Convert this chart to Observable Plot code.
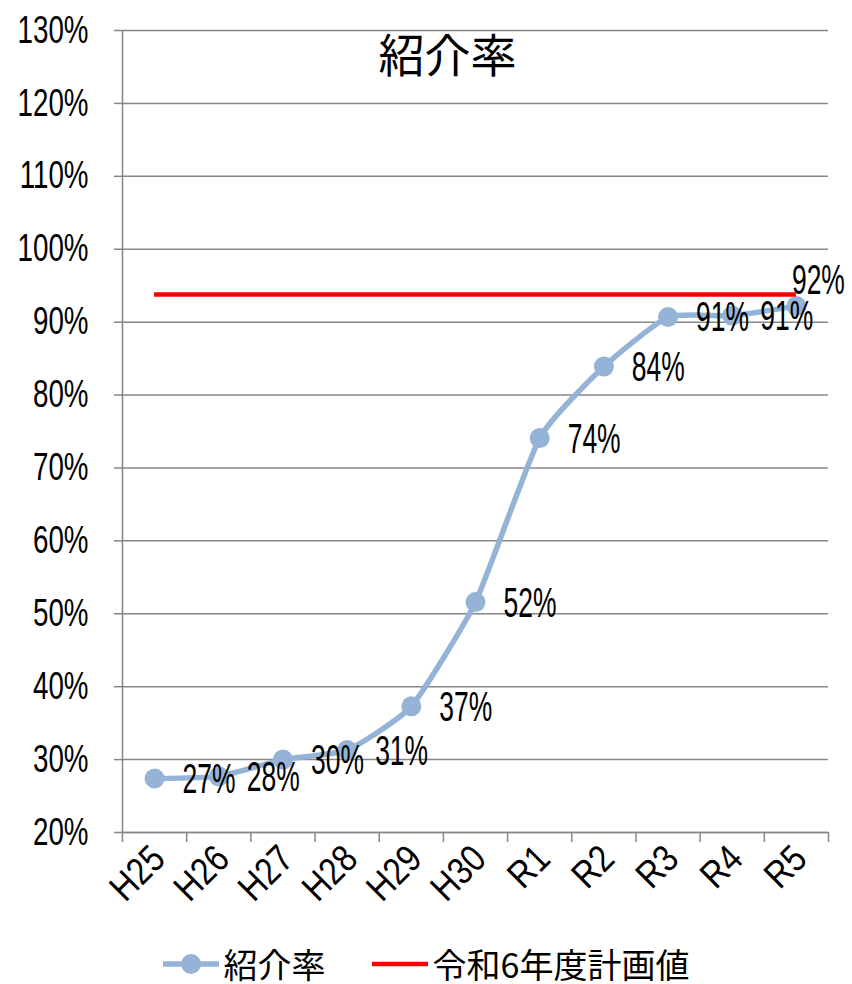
<!DOCTYPE html>
<html>
<head>
<meta charset="utf-8">
<script src="https://cdn.jsdelivr.net/npm/d3@7"></script>
<script src="https://cdn.jsdelivr.net/npm/@observablehq/plot@0.6"></script>
<style>
  html, body { margin: 0; padding: 0; background: #fff; }
  #chart { width: 852px; }
  #chart svg { display: block; }
  .legend { display: flex; justify-content: center; align-items: center; height: 40px; margin-top: 4px;
    font-family: "Noto Sans CJK JP", sans-serif; font-size: 34px; line-height: 1; color: #000; }
  .legend .item { display: flex; align-items: center; margin: 0 23px; }
  .legend span { display: inline-block; height: 36px; line-height: 36px; }
  .legend svg { margin-right: 5px; }
</style>
</head>
<body>
<div id="chart"></div>
<script>
const title = "紹介率";
const categories = ["H25", "H26", "H27", "H28", "H29", "H30", "R1", "R2", "R3", "R4", "R5"];
const rates = [0.274, 0.277, 0.300, 0.313, 0.373, 0.516, 0.741, 0.839, 0.907, 0.909, 0.922];
const rateLabels = ["27%", "28%", "30%", "31%", "37%", "52%", "74%", "84%", "91%", "91%", "92%"];
const planValue = 0.938;
const yTicks = [0.2, 0.3, 0.4, 0.5, 0.6, 0.7, 0.8, 0.9, 1.0, 1.1, 1.2, 1.3];
const yTickLabels = ["20%", "30%", "40%", "50%", "60%", "70%", "80%", "90%", "100%", "110%", "120%", "130%"];
const seriesNames = ["紹介率", "令和6年度計画値"];
const colors = ["#95B3D7", "#FF0000"];

const data = categories.map((c, i) => ({ i, cat: c, rate: rates[i], label: rateLabels[i] }));
const idx = categories.map((c, i) => i);
const boundaries = categories.map((c, i) => i - 0.5).concat([categories.length - 0.5]);
const last = categories.length - 1;
const numFont = '"Liberation Sans", Arial, sans-serif';
const grey = "#868686";

const chart = Plot.plot({
  width: 852,
  height: 940,
  marginLeft: 122,
  marginRight: 24,
  marginTop: 30,
  marginBottom: 108,
  x: { type: "linear", domain: [boundaries[0], boundaries[boundaries.length - 1]] },
  y: { domain: [yTicks[0], yTicks[yTicks.length - 1]] },
  style: { fontFamily: numFont, background: "#fff", color: "#000", overflow: "visible" },
  marks: [
    Plot.gridY(yTicks, { stroke: grey, strokeOpacity: 1, strokeWidth: 1.5 }),
    Plot.axisY(yTicks, {
      tickFormat: d => yTickLabels[yTicks.indexOf(d)],
      tickSize: 8, tickPadding: 26, stroke: grey, strokeWidth: 1.5, fontSize: 38, label: null, dy: 0
    }),
    Plot.ruleX([boundaries[0]], { stroke: grey, strokeWidth: 1.5 }),
    Plot.ruleY([yTicks[0]], { stroke: grey, strokeWidth: 1.5 }),
    Plot.axisX(boundaries, { tickSize: 10, tickFormat: () => "", stroke: grey, strokeWidth: 1.5, label: null }),
    Plot.axisX(idx, {
      tickFormat: i => categories[i], tickSize: 0, tickRotate: -45, tickPadding: 20, dx: 4,
      fontSize: 38, label: null
    }),
    Plot.line(data, { x: "i", y: "rate", stroke: colors[0], strokeWidth: 5.5, curve: "cardinal", tension: 0.5 }),
    Plot.dot(data, { x: "i", y: "rate", r: 10, fill: colors[0], stroke: "none" }),
    Plot.ruleY([planValue], { x1: idx[0], x2: last, stroke: colors[1], strokeWidth: 4.5 }),
    Plot.text(data.filter(d => d.i < last), {
      x: "i", y: "rate", text: "label", textAnchor: "start", dx: 28, dy: 1, fontSize: 42, fill: "#000"
    }),
    Plot.text(data.filter(d => d.i === last), {
      x: "i", y: "rate", text: "label", textAnchor: "middle", dx: 22, dy: -26, fontSize: 42, fill: "#000"
    }),
    Plot.text([title], {
      frameAnchor: "top", dx: -28, dy: 9, text: d => d, fontSize: 46,
      fontFamily: '"Noto Sans CJK JP", sans-serif', fill: "#000"
    })
  ]
});
document.getElementById("chart").appendChild(chart);

// Narrow the Latin/numeric labels to mimic the condensed font of the original
function squeeze(t, sx) {
  const tr = t.getAttribute("transform") || "";
  t.setAttribute("transform", tr + ` scale(${sx},1)`);
}
chart.querySelectorAll("text").forEach(t => {
  const txt = t.textContent;
  if (txt === title) return;
  const g = t.closest("g[aria-label]");
  const lab = g ? g.getAttribute("aria-label") : "";
  if (/x-axis/.test(lab)) squeeze(t, 0.85);
  else if (/y-axis/.test(lab)) squeeze(t, 0.73);
  else squeeze(t, 0.63);
});

const legend = document.createElement("div");
legend.className = "legend";
legend.innerHTML = `
  <div class="item">
    <svg width="56" height="24"><line x1="0" y1="12" x2="56" y2="12" stroke="${colors[0]}" stroke-width="5.5"/><circle cx="28" cy="12" r="10" fill="${colors[0]}"/></svg>
    <span>${seriesNames[0]}</span>
  </div>
  <div class="item">
    <svg width="56" height="24"><line x1="0" y1="12" x2="56" y2="12" stroke="${colors[1]}" stroke-width="4.5"/></svg>
    <span>${seriesNames[1]}</span>
  </div>`;
document.body.appendChild(legend);
</script>
</body>
</html>
